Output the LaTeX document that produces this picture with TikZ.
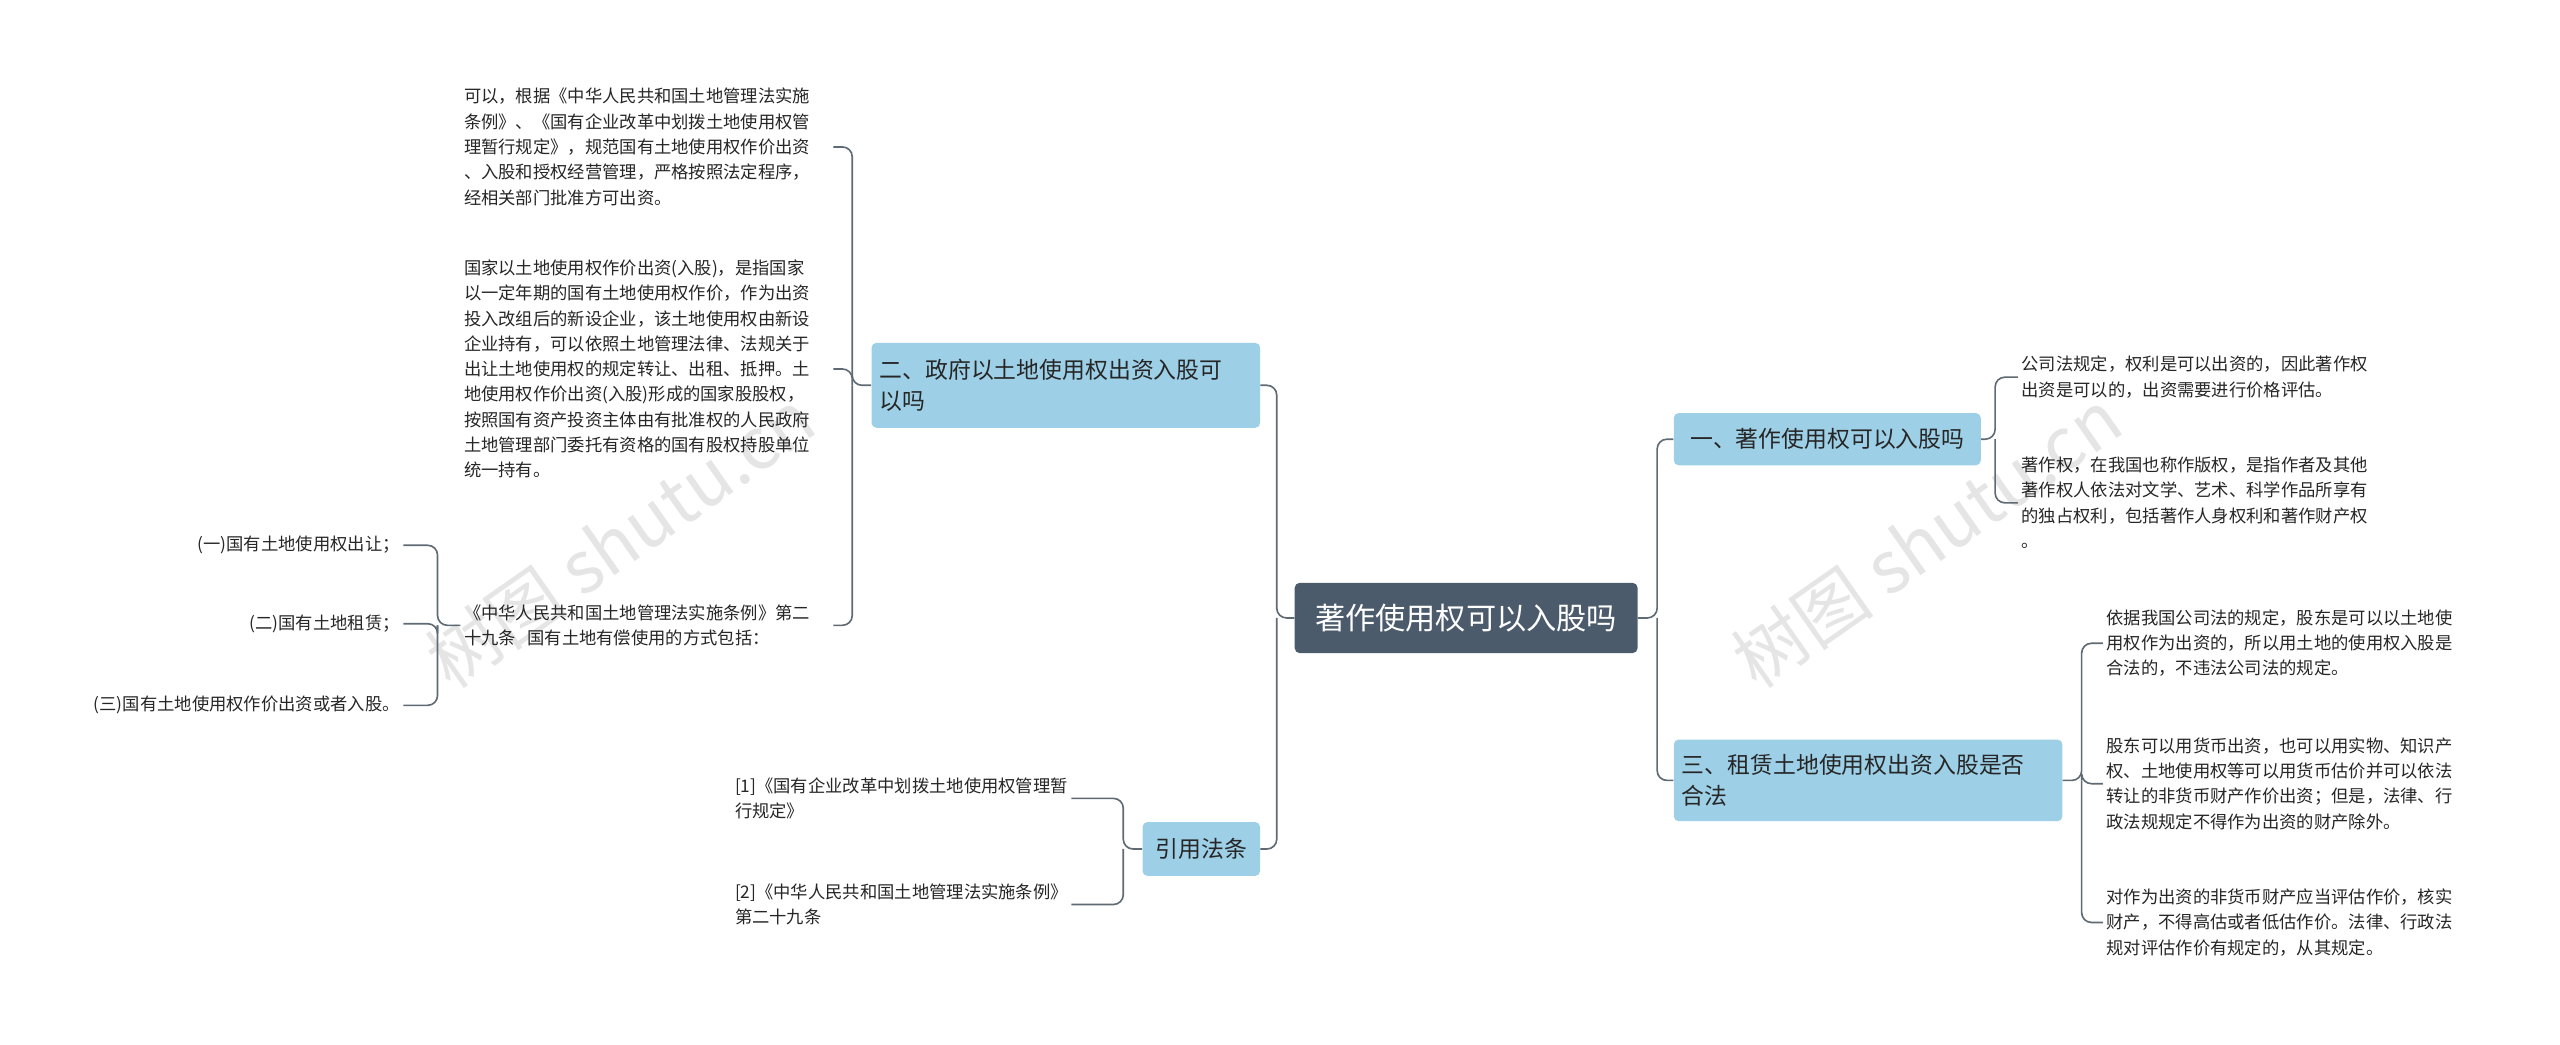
\documentclass[tikz,border=0pt]{standalone}
\usepackage{fontspec}
\setmainfont{Noto Sans CJK SC}
\begin{document}
\begin{tikzpicture}[x=1pt,y=-1pt,
  rootbox/.style={fill=rootc,rounded corners=3pt,text=white,font=\fontsize{18.5}{22}\selectfont,minimum width=210pt,minimum height=43pt,inner sep=0pt},
  brbox/.style={fill=brc,rounded corners=3pt,text=black!85,font=\fontsize{14}{19}\selectfont,inner sep=5pt,align=left},
  leaf/.style={font=\fontsize{10.6}{15.5}\selectfont,text=black!85,align=left,inner sep=2pt},
  conn/.style={draw=linec,line width=1pt,rounded corners=6pt},
  wm/.style={text=black!10,font=\fontsize{44}{44}\selectfont,rotate=35}]
\definecolor{rootc}{HTML}{4B5B6C}
\definecolor{brc}{HTML}{9DCFE6}
\definecolor{linec}{HTML}{5F6B74}
\useasboundingbox (0,0) rectangle (1568,640);
\fill[white] (0,0) rectangle (1568,640);
\node[wm] at (380,330) {树图 shutu.cn};
\node[wm] at (1180,330) {树图 shutu.cn};

\node[rootbox] (root) at (898,378.5) {著作使用权可以入股吗};
\node[brbox,minimum width=188pt,minimum height=32pt,anchor=west] (b1) at (1025,269) {一、著作使用权可以入股吗};
\node[brbox,text width=228pt,minimum height=50pt,anchor=west] (b3) at (1025,478) {三、租赁土地使用权出资入股是否\\合法};
\node[brbox,text width=228pt,minimum height=52pt,anchor=east] (b2) at (772,236) {二、政府以土地使用权出资入股可\\以吗};
\node[brbox,minimum width=72pt,minimum height=33pt,anchor=east] (b4) at (772,520) {引用法条};

\node[leaf,anchor=west] (r1a) at (1236,231) {公司法规定，权利是可以出资的，因此著作权\\出资是可以的，出资需要进行价格评估。};
\node[leaf,anchor=west] (r1b) at (1236,308) {著作权，在我国也称作版权，是指作者及其他\\著作权人依法对文学、艺术、科学作品所享有\\的独占权利，包括著作人身权利和著作财产权\\。};
\node[leaf,anchor=west] (r3a) at (1288,394) {依据我国公司法的规定，股东是可以以土地使\\用权作为出资的，所以用土地的使用权入股是\\合法的，不违法公司法的规定。};
\node[leaf,anchor=west] (r3b) at (1288,480) {股东可以用货币出资，也可以用实物、知识产\\权、土地使用权等可以用货币估价并可以依法\\转让的非货币财产作价出资；但是，法律、行\\政法规规定不得作为出资的财产除外。};
\node[leaf,anchor=west] (r3c) at (1288,565) {对作为出资的非货币财产应当评估作价，核实\\财产，不得高估或者低估作价。法律、行政法\\规对评估作价有规定的，从其规定。};

\node[leaf,anchor=west,text width=224pt] (l2a) at (282,90) {可以，根据《中华人民共和国土地管理法实施\\条例》、《国有企业改革中划拨土地使用权管\\理暂行规定》，规范国有土地使用权作价出资\\、入股和授权经营管理，严格按照法定程序，\\经相关部门批准方可出资。};
\node[leaf,anchor=west,text width=224pt] (l2b) at (282,226) {国家以土地使用权作价出资(入股)，是指国家\\以一定年期的国有土地使用权作价，作为出资\\投入改组后的新设企业，该土地使用权由新设\\企业持有，可以依照土地管理法律、法规关于\\出让土地使用权的规定转让、出租、抵押。土\\地使用权作价出资(入股)形成的国家股股权，\\按照国有资产投资主体由有批准权的人民政府\\土地管理部门委托有资格的国有股权持股单位\\统一持有。};
\node[leaf,anchor=west,text width=224pt] (l2c) at (282,383) {《中华人民共和国土地管理法实施条例》第二\\十九条~ 国有土地有偿使用的方式包括：};
\node[leaf,anchor=east] (c1) at (247,334) {(一)国有土地使用权出让；};
\node[leaf,anchor=east] (c2) at (247,382) {(二)国有土地租赁；};
\node[leaf,anchor=east] (c3) at (247,432) {(三)国有土地使用权作价出资或者入股。};
\node[leaf,anchor=west] (q1) at (448,489) {[1]《国有企业改革中划拨土地使用权管理暂\\行规定》};
\node[leaf,anchor=west] (q2) at (448,554) {[2]《中华人民共和国土地管理法实施条例》\\第二十九条};

\coordinate (jr) at (1015,378.5);
\coordinate (jl) at (782,378.5);
\coordinate (j1) at (1222,269);
\coordinate (j3) at (1275,478);
\coordinate (j2) at (522,236);
\coordinate (j4) at (688,520);
\coordinate (jc) at (268,383);

\draw[conn] (root.east) -- (jr) |- (b1.west);
\draw[conn] (jr) |- (b3.west);
\draw[conn] (root.west) -- (jl) |- (b2.east);
\draw[conn] (jl) |- (b4.east);
\draw[conn] (b1.east) -- (j1) |- (r1a.west);
\draw[conn] (j1) |- (r1b.west);
\draw[conn] (b3.east) -- (j3) |- (r3a.west);
\draw[conn] (j3) |- (r3b.west);
\draw[conn] (j3) |- (r3c.west);
\draw[conn] (b2.west) -- (j2) |- (l2a.east);
\draw[conn] (j2) |- (l2b.east);
\draw[conn] (j2) |- (l2c.east);
\draw[conn] (l2c.west) -- (jc) |- (c1.east);
\draw[conn] (jc) |- (c2.east);
\draw[conn] (jc) |- (c3.east);
\draw[conn] (b4.west) -- (j4) |- (q1.east);
\draw[conn] (j4) |- (q2.east);
\end{tikzpicture}
\end{document}
